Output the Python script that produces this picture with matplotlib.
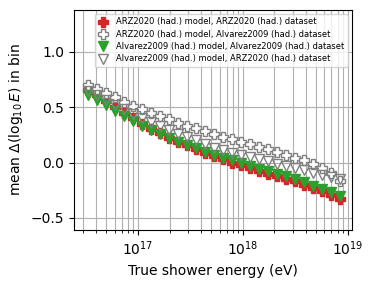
import numpy as np
import matplotlib
matplotlib.use("Agg")
import matplotlib.pyplot as plt

log_e = [16.525, 16.611, 16.696, 16.782, 16.868, 16.954, 17.039, 17.125, 17.211,
         17.296, 17.382, 17.468, 17.554, 17.639, 17.725, 17.811, 17.896, 17.982,
         18.068, 18.154, 18.239, 18.325, 18.411, 18.496, 18.582, 18.668, 18.754,
         18.839, 18.925]

arz_arz = [0.66, 0.61, 0.555, 0.50, 0.45, 0.40, 0.35, 0.305, 0.265, 0.225, 0.19,
           0.155, 0.12, 0.085, 0.055, 0.03, 0.0, -0.025, -0.05, -0.075, -0.10,
           -0.12, -0.145, -0.17, -0.20, -0.23, -0.26, -0.29, -0.325]
arz_alv = [0.70, 0.665, 0.63, 0.59, 0.55, 0.515, 0.48, 0.45, 0.42, 0.39, 0.36,
           0.335, 0.31, 0.285, 0.26, 0.235, 0.21, 0.19, 0.165, 0.14, 0.12, 0.095,
           0.07, 0.045, 0.02, -0.01, -0.045, -0.09, -0.17]
alv_alv = [0.61, 0.57, 0.52, 0.47, 0.425, 0.38, 0.335, 0.295, 0.26, 0.225, 0.19,
           0.16, 0.13, 0.10, 0.07, 0.045, 0.02, -0.005, -0.03, -0.055, -0.08,
           -0.10, -0.125, -0.15, -0.18, -0.21, -0.24, -0.27, -0.305]
alv_arz = [0.65, 0.61, 0.565, 0.52, 0.48, 0.44, 0.40, 0.365, 0.33, 0.295, 0.26,
           0.23, 0.20, 0.165, 0.13, 0.11, 0.09, 0.07, 0.05, 0.03, 0.01, -0.01,
           -0.03, -0.05, -0.07, -0.09, -0.11, -0.13, -0.15]

labels = ["ARZ2020 (had.) model, ARZ2020 (had.) dataset",
          "ARZ2020 (had.) model, Alvarez2009 (had.) dataset",
          "Alvarez2009 (had.) model, Alvarez2009 (had.) dataset",
          "Alvarez2009 (had.) model, ARZ2020 (had.) dataset"]

energy = 10 ** np.array(log_e)

fig = plt.figure(figsize=(3.74, 2.84), dpi=100)
ax = fig.add_axes([0.198, 0.190, 0.743, 0.775])

ms = 7
ax.plot(energy, arz_arz, ls="none", marker="P", ms=ms, color="tab:red", label=labels[0])
ax.plot(energy, arz_alv, ls="none", marker="P", ms=ms, mfc="white", mec="gray", label=labels[1])
ax.plot(energy, alv_alv, ls="none", marker="v", ms=ms, color="tab:green", label=labels[2])
ax.plot(energy, alv_arz, ls="none", marker="v", ms=ms, mfc="none", mec="gray", label=labels[3])

ax.set_xscale("log")
ax.set_xlim(10 ** 16.39, 10 ** 19.04)
ax.set_ylim(-0.61, 1.38)
ax.set_yticks([-0.5, 0.0, 0.5, 1.0])
ax.grid(True, which="both", axis="x", color="#b0b0b0", lw=0.8)
ax.grid(True, which="major", axis="y", color="#b0b0b0", lw=0.8)
ax.set_axisbelow(True)

ax.set_xlabel("True shower energy (eV)", fontsize=10)
ax.set_ylabel(r"mean $\Delta(\log_{10}E)$ in bin", fontsize=10)
ax.tick_params(labelsize=10)

ax.legend(loc="upper right", fontsize=6, handletextpad=0.9, borderpad=0.4,
          labelspacing=0.4, handlelength=1.3)

fig.savefig("out.png", dpi=100)
